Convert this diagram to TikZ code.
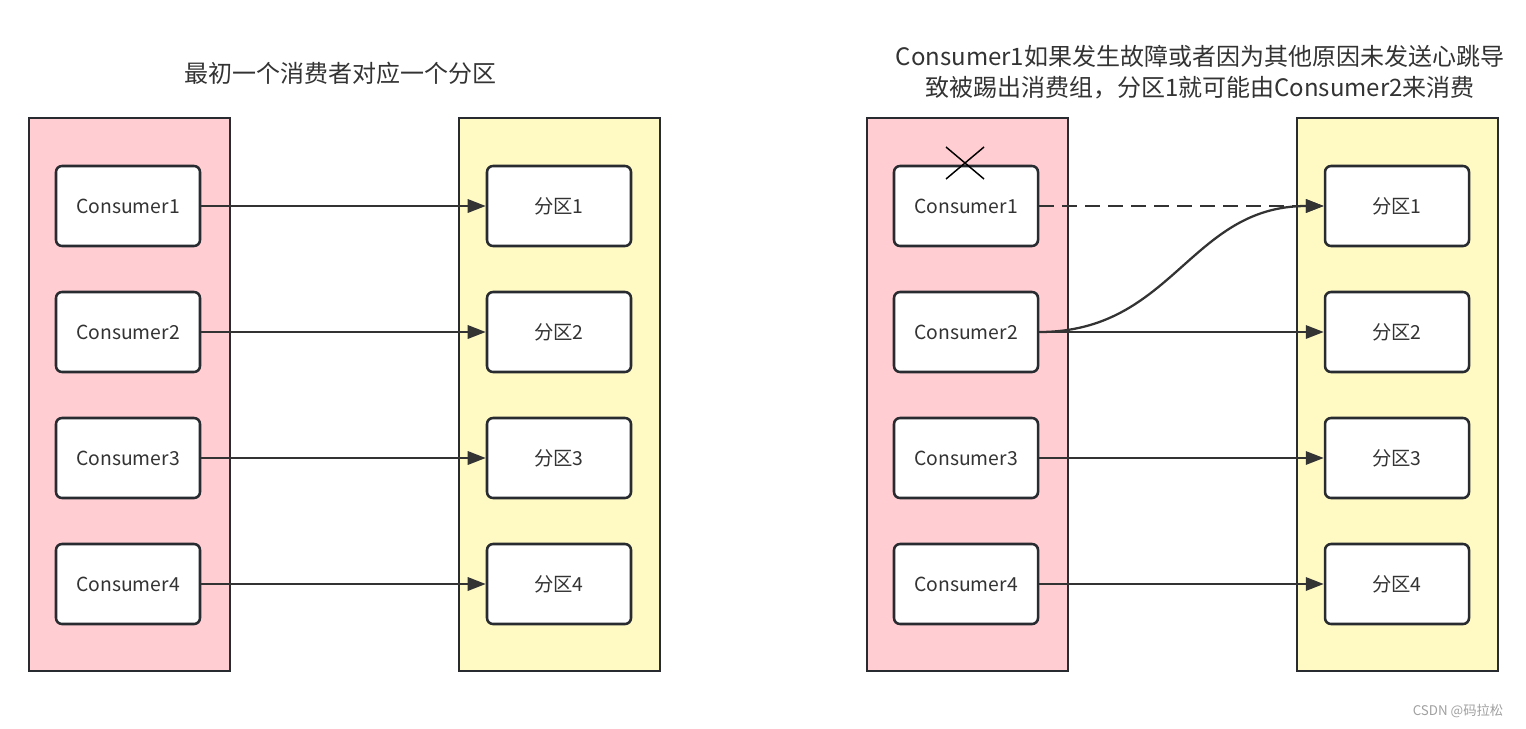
\documentclass[tikz,border=0pt]{standalone}
\usepackage{fontspec}
\setmainfont{Noto Sans CJK SC}
\usetikzlibrary{arrows.meta}

\definecolor{panelpink}{RGB}{255,205,210}
\definecolor{panelyellow}{RGB}{255,249,196}
\definecolor{boxline}{RGB}{40,44,48}
\definecolor{linegray}{RGB}{51,51,51}
\definecolor{markgray}{RGB}{160,160,160}

\tikzset{every picture/.style={line width=0.75pt}}
\tikzset{
  panel/.style={draw=boxline, line width=1.9pt, inner sep=0pt, minimum width=150.75pt, minimum height=414.75pt},
  itembox/.style={draw=boxline, fill=white, line width=1.9pt, rounded corners=4.5pt, inner sep=0pt,
    minimum width=108pt, minimum height=60pt, text=linegray, font=\fontsize{14.5}{17}\selectfont},
  link/.style={draw=linegray, line width=1.7pt, -{Triangle[length=13.5pt,width=10pt]}},
  title/.style={text=linegray, inner sep=0.75pt, align=center, font=\fontsize{18}{23.25}\selectfont},
}

\begin{document}
\begin{tikzpicture}[x=0.75pt,y=0.75pt,yscale=-1,xscale=1]
\useasboundingbox (0,0) rectangle (1526,728);

%Shape: Rectangle (left side)
\draw (129.5,394.5) node (lpink) [panel, fill=panelpink] {};
\draw (559.5,394.5) node (lyellow) [panel, fill=panelyellow] {};
%Shape: Rectangle (right side)
\draw (967.5,394.5) node (rpink) [panel, fill=panelpink] {};
\draw (1397.5,394.5) node (ryellow) [panel, fill=panelyellow] {};

%Consumers, left
\draw (128,206) node (lc1) [itembox] {Consumer1};
\draw (128,332) node (lc2) [itembox] {Consumer2};
\draw (128,458) node (lc3) [itembox] {Consumer3};
\draw (128,584) node (lc4) [itembox] {Consumer4};
%Partitions, left
\draw (559,206) node (lp1) [itembox] {分区1};
\draw (559,332) node (lp2) [itembox] {分区2};
\draw (559,458) node (lp3) [itembox] {分区3};
\draw (559,584) node (lp4) [itembox] {分区4};

%Consumers, right
\draw (966,206) node (rc1) [itembox] {Consumer1};
\draw (966,332) node (rc2) [itembox] {Consumer2};
\draw (966,458) node (rc3) [itembox] {Consumer3};
\draw (966,584) node (rc4) [itembox] {Consumer4};
%Partitions, right
\draw (1397,206) node (rp1) [itembox] {分区1};
\draw (1397,332) node (rp2) [itembox] {分区2};
\draw (1397,458) node (rp3) [itembox] {分区3};
\draw (1397,584) node (rp4) [itembox] {分区4};

%Straight Lines
\draw [link] (lc1) -- (lp1);
\draw [link] (lc2) -- (lp2);
\draw [link] (lc3) -- (lp3);
\draw [link] (lc4) -- (lp4);

\draw [link, dash pattern=on 11.25pt off 6pt] (rc1) -- (rp1);
%Curve Lines
\draw [link] (rc2.east) to[out=0, in=180, looseness=1.1] (rp1.west);
\draw [link] (rc2) -- (rp2);
\draw [link] (rc3) -- (rp3);
\draw [link] (rc4) -- (rp4);

%Cross over Consumer1
\draw [line width=1.1pt] (946,147) -- (984,179) (946,179) -- (984,147);

% Text Node
\draw (340,73) node (ltitle) [title] {最初一个消费者对应一个分区};
% Text Node
\draw (1200,72.5) node (rtitle) [title] {Consumer1如果发生故障或者因为其他原因未发送心跳导\\致被踢出消费组，分区1就可能由Consumer2来消费};
% Text Node
\draw (1458,711) node (wmark) [text=markgray, inner sep=0.75pt, font=\fontsize{10}{12}\selectfont] {CSDN @码拉松};

\end{tikzpicture}
\end{document}
